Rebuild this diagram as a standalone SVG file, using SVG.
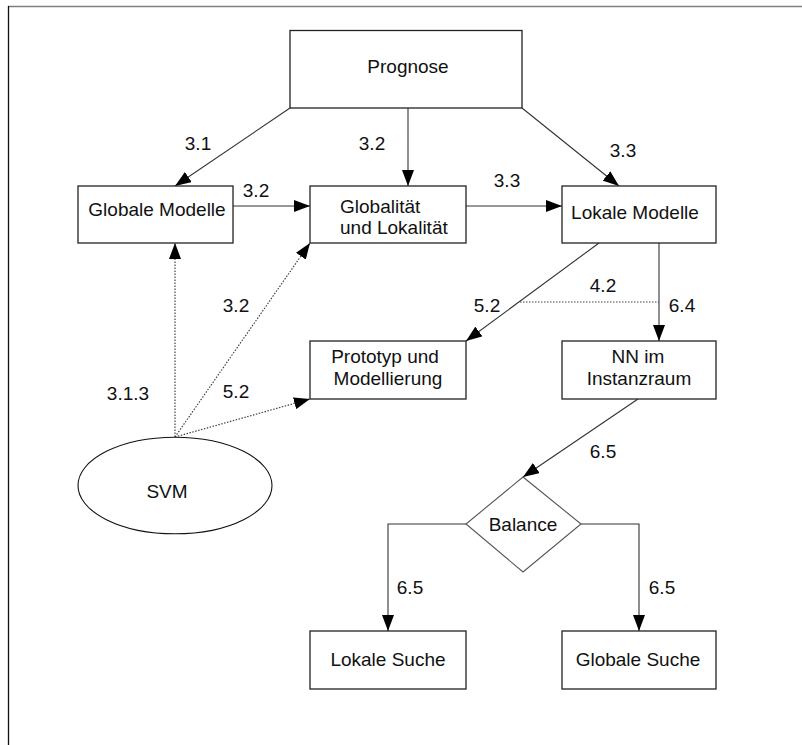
<svg xmlns="http://www.w3.org/2000/svg" width="802" height="745" viewBox="0 0 802 745">
<style>
  text { font-family: "Liberation Sans", Arial, sans-serif; font-size: 19px; fill: #111; }
  .c { text-anchor: middle; }
  .box { fill: #fff; stroke: #222; stroke-width: 1.3; }
  .ln { fill: none; stroke: #333; stroke-width: 1.1; }
  .dot { fill: none; stroke: #444; stroke-width: 1.2; stroke-dasharray: 1.5 1.5; }
</style>
<defs>
  <marker id="arr" markerUnits="userSpaceOnUse" markerWidth="16" markerHeight="12" refX="16" refY="6" orient="auto">
    <path d="M0,0 L16,6 L0,12 z" fill="#000"/>
  </marker>
</defs>
<rect x="0" y="0" width="802" height="745" fill="#fff"/>
<line x1="8" y1="6.5" x2="802" y2="6.5" stroke="#808080" stroke-width="1.6"/>
<line x1="8.5" y1="6" x2="8.5" y2="745" stroke="#111" stroke-width="1.3"/>

<g id="connectors">
  <line class="ln" x1="290" y1="108" x2="175" y2="186" marker-end="url(#arr)"/>
  <line class="ln" x1="408" y1="108" x2="408" y2="186" marker-end="url(#arr)"/>
  <line class="ln" x1="522" y1="108" x2="619" y2="186" marker-end="url(#arr)"/>
  <line class="ln" x1="233" y1="206" x2="310" y2="206" marker-end="url(#arr)"/>
  <line class="ln" x1="466" y1="206" x2="562" y2="206" marker-end="url(#arr)"/>
  <line class="ln" x1="599" y1="243" x2="466" y2="341" marker-end="url(#arr)"/>
  <line class="ln" x1="659" y1="243" x2="659" y2="341" marker-end="url(#arr)"/>
  <line class="dot" x1="520" y1="302" x2="659" y2="302"/>
  <line class="ln" x1="638" y1="399" x2="523" y2="477" marker-end="url(#arr)"/>
  <polyline class="ln" points="466,524 388,524 388,631" marker-end="url(#arr)"/>
  <polyline class="ln" points="581,524 639,524 639,631" marker-end="url(#arr)"/>
  <line class="dot" x1="175" y1="437" x2="175" y2="243" marker-end="url(#arr)"/>
  <line class="dot" x1="175" y1="437" x2="310" y2="243" marker-end="url(#arr)"/>
  <line class="dot" x1="175" y1="437" x2="310" y2="399" marker-end="url(#arr)"/>

  <text class="c" x="198" y="150">3.1</text>
  <text class="c" x="372" y="150">3.2</text>
  <text class="c" x="623" y="157">3.3</text>
  <text class="c" x="256" y="197">3.2</text>
  <text class="c" x="507" y="187">3.3</text>
  <text class="c" x="603" y="292">4.2</text>
  <text class="c" x="487" y="312">5.2</text>
  <text class="c" x="682" y="312">6.4</text>
  <text class="c" x="236" y="312">3.2</text>
  <text class="c" x="128" y="400">3.1.3</text>
  <text class="c" x="236" y="398">5.2</text>
  <text class="c" x="603" y="458">6.5</text>
  <text class="c" x="410" y="594">6.5</text>
  <text class="c" x="662" y="594">6.5</text>
</g>

<g id="prognose">
  <rect class="box" x="290" y="30.5" width="232" height="77.5"/>
  <text class="c" x="408" y="73">Prognose</text>
</g>
<g id="globale-modelle">
  <rect class="box" x="78" y="186" width="155" height="57"/>
  <text class="c" x="157" y="216">Globale Modelle</text>
</g>
<g id="globalitaet">
  <rect class="box" x="310" y="186" width="156" height="57"/>
  <text x="340" y="213">Globalität</text>
  <text x="340" y="234">und Lokalität</text>
</g>
<g id="lokale-modelle">
  <rect class="box" x="562" y="186" width="154" height="57"/>
  <text class="c" x="635" y="219">Lokale Modelle</text>
</g>
<g id="prototyp">
  <rect class="box" x="310" y="341" width="156" height="58"/>
  <text class="c" x="385" y="363">Prototyp und</text>
  <text class="c" x="388" y="385">Modellierung</text>
</g>
<g id="nn">
  <rect class="box" x="562" y="341" width="154" height="58"/>
  <text class="c" x="638" y="363">NN im</text>
  <text class="c" x="639" y="385">Instanzraum</text>
</g>
<g id="svm">
  <ellipse cx="175" cy="485.5" rx="97" ry="48.3" fill="#fff" stroke="#111" stroke-width="1.1"/>
  <text class="c" x="167" y="498">SVM</text>
</g>
<g id="balance">
  <polygon points="523,477 581,524 523,572 466,524" fill="#fff" stroke="#555" stroke-width="1.1"/>
  <text class="c" x="523" y="531">Balance</text>
</g>
<g id="lokale-suche">
  <rect class="box" x="310" y="631" width="156" height="58"/>
  <text class="c" x="388" y="666">Lokale Suche</text>
</g>
<g id="globale-suche">
  <rect class="box" x="562" y="631" width="154" height="58"/>
  <text class="c" x="638" y="666">Globale Suche</text>
</g>
</svg>
